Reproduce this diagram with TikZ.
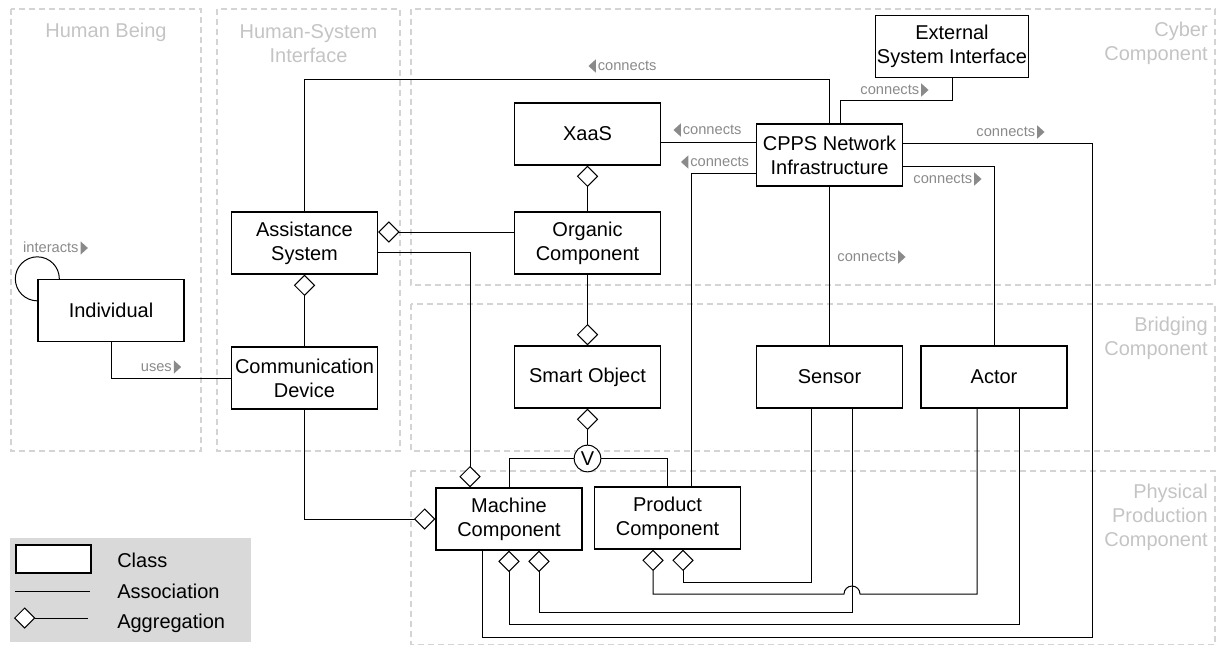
\documentclass[tikz,border=0pt]{standalone}
\usepackage{fontspec}
\setmainfont{Liberation Sans}
\usetikzlibrary{arrows.meta}
\definecolor{lanegray}{HTML}{D4D4D4}
\definecolor{titlegray}{HTML}{C4C4C4}
\definecolor{labelgray}{HTML}{8A8A8A}
\definecolor{legendgray}{HTML}{D9D9D9}
\newcommand{\rtri}{\hspace{1.5pt}\tikz[baseline=0pt]\fill[labelgray] (0,-1.5pt) -- (0,8.5pt) -- (5.5pt,3.5pt) -- cycle;}
\newcommand{\ltri}{\tikz[baseline=0pt]\fill[labelgray] (5.5pt,-1.5pt) -- (5.5pt,8.5pt) -- (0,3.5pt) -- cycle;\hspace{1.5pt}}
\begin{document}
\begin{tikzpicture}[x=0.75pt,y=-0.75pt,
  cls/.style={draw, fill=white, line width=1pt, minimum width=109.5pt, minimum height=46.5pt, inner sep=1pt, align=center, font=\fontsize{15}{18}\selectfont},
  lane/.style={draw=lanegray, dash pattern=on 4.5pt off 3pt, line width=1pt},
  lanetitle/.style={text=titlegray, inner sep=0pt, font=\fontsize{15}{18}\selectfont},
  lbl/.style={text=labelgray, inner sep=0pt, font=\fontsize{11}{13}\selectfont},
  assoc/.style={line width=0.75pt},
  aggr/.style={assoc, {Diamond[fill=white, length=16pt, width=16pt]}-},
  legendtxt/.style={inner sep=0pt, font=\fontsize{15}{18}\selectfont}]
 \useasboundingbox (0,0) rectangle (1223,646);
 % swimlanes
 \draw[lane] (11,9) rectangle (201,451);
 \draw[lane] (217,9) rectangle (400,451);
 \draw[lane] (411,9) rectangle (1215,285);
 \draw[lane] (411,304) rectangle (1215,451);
 \draw[lane] (411,471) rectangle (1215,644.5);
 \node[lanetitle] (tHuman) at (106,32) {Human Being};
 \node[lanetitle, align=center] (tHSI) at (308.5,43.5) {Human-System\\Interface};
 \node[lanetitle, align=right, anchor=east] (tCyber) at (1208,43.5) {Cyber\\Component};
 \node[lanetitle, align=right, anchor=east] (tBridge) at (1208,338) {Bridging\\Component};
 \node[lanetitle, align=right, anchor=east] (tPhys) at (1208,517) {Physical\\Production\\Component};
 % classes
 \node[cls] (indiv) at (111,310.5) {Individual};
 \node[cls] (assist) at (304.5,243) {Assistance\\System};
 \node[cls] (comm) at (304.5,378) {Communication\\Device};
 \node[cls] (xaas) at (587.5,134) {XaaS};
 \node[cls] (organic) at (587.5,243) {Organic\\Component};
 \node[cls] (smart) at (587.5,377) {Smart Object};
 \node[cls] (cpps) at (829.5,155) {CPPS Network\\Infrastructure};
 \node[cls] (extsys) at (952,46.5) {External\\System Interface};
 \node[cls] (sensor) at (829.5,377) {Sensor};
 \node[cls] (actor) at (994,377) {Actor};
 \node[cls] (machine) at (509,519) {Machine\\Component};
 \node[cls] (product) at (667.5,518) {Product\\Component};
 \node[circle, draw, fill=white, line width=0.75pt, minimum size=20pt, inner sep=0pt, font=\fontsize{15}{18}\selectfont] (vee) at (587.5,458.5) {V};
 % human side
 \draw[assoc] ([xshift=16.5pt]indiv.north west) arc[start angle=0, end angle=270, radius=16.5pt];
 \draw[assoc] (indiv.south) |- (comm.west);
 \draw[aggr] (assist.south) -- (comm.north);
 \draw[aggr] (assist.east |- 0,232) -- (organic.west |- 0,232);
 \draw[aggr] (machine.north -| 470,0) |- (assist.east |- 0,252);
 \draw[aggr] (machine.west) -| (comm.south);
 % smart object chain
 \draw[aggr] (xaas.south) -- (organic.north);
 \draw[aggr] (smart.north) -- (organic.south);
 \draw[aggr] (smart.south) -- (vee.north);
 \draw[assoc] (machine.north) |- (vee.west);
 \draw[assoc] (product.north) |- (vee.east);
 % network
 \draw[assoc] (assist.north) -- (assist.north |- 0,79) -| (cpps.north);
 \draw[assoc] (extsys.south) -- (extsys.south |- 0,100) -| (cpps.north -| 840,0);
 \draw[assoc] (xaas.east |- 0,142) -- (cpps.west |- 0,142);
 \draw[assoc] (cpps.west |- 0,173) -| (product.north -| 691,0);
 \draw[assoc] (cpps.south) -- (sensor.north);
 \draw[assoc] (cpps.east |- 0,166) -| (actor.north);
 \draw[assoc] (cpps.east |- 0,143) -| (1092,637) -| (machine.south -| 482,0);
 % sensors and actors
 \draw[aggr] (machine.south) |- (1019,624) -- (actor.south -| 1019,0);
 \draw[aggr] (machine.south -| 539,0) |- (852,612) -- (sensor.south -| 852,0);
 \draw[aggr] (product.south -| 653,0) |- (844,594) arc[start angle=180, end angle=0, radius=6pt] -- (977,594) -- (actor.south -| 977,0);
 \draw[aggr] (product.south -| 683,0) |- (811,582) -- (sensor.south -| 811,0);
 % labels
 \node[lbl] (lbInteracts) at (55.5,248) {interacts\rtri};
 \node[lbl] (lbUses) at (161,367) {uses\rtri};
 \node[lbl] (lbAssist) at (622.5,66) {\ltri connects};
 \node[lbl] (lbExt) at (894.5,90) {connects\rtri};
 \node[lbl] (lbXaas) at (707.5,130) {\ltri connects};
 \node[lbl] (lbProduct) at (715,162) {\ltri connects};
 \node[lbl] (lbMachine) at (1010.5,132) {connects\rtri};
 \node[lbl] (lbActor) at (947.5,179) {connects\rtri};
 \node[lbl] (lbSensor) at (871.5,257) {connects\rtri};
 % legend
 \fill[legendgray] (10,538) rectangle (251,642);
 \draw[line width=1pt, fill=white] (16,545) rectangle (91,573);
 \draw[assoc] (15,591) -- (90,591);
 \draw[aggr] (14,618) -- (88,618);
 \node[legendtxt, anchor=base west] (lgClass) at (117,567) {Class};
 \node[legendtxt, anchor=base west] (lgAssoc) at (117,598) {Association};
 \node[legendtxt, anchor=base west] (lgAggr) at (117,628) {Aggregation};
\end{tikzpicture}
\end{document}
